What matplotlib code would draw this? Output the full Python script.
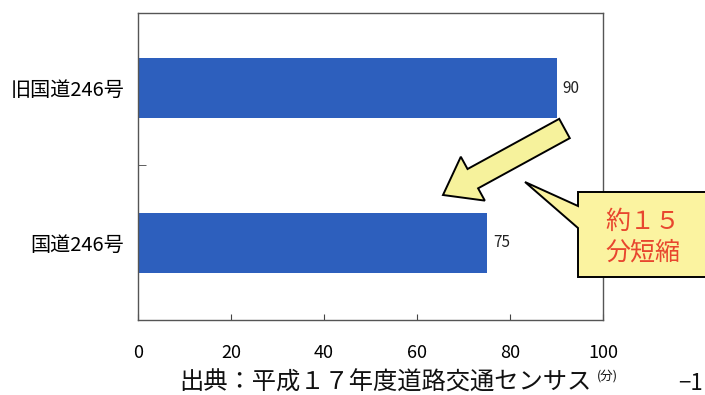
import matplotlib
matplotlib.use('Agg')
import matplotlib.pyplot as plt
from matplotlib.patches import FancyArrow, Polygon
from matplotlib.transforms import Affine2D

plt.rcParams['font.family'] = ['Noto Sans CJK JP', 'DejaVu Sans']

# values (bottom to top)
routes = ['国道246号', '旧国道246号']
minutes = [75, 90]
x_ticks = [0, 20, 40, 60, 80, 100]

bar_color = '#2d5fbd'
red_text = '#e8462e'

fig = plt.figure(figsize=(7.05, 3.95), dpi=100, facecolor='white')
ax = fig.add_axes([138 / 705, 1 - 320 / 395, 465 / 705, 307 / 395])

pos = list(range(len(routes)))
ax.barh(pos, minutes, height=0.39, color=bar_color, edgecolor='none')
for p, v in zip(pos, minutes):
    ax.text(v + 1.3, p, str(v), va='center', ha='left', fontsize=11, color='#222222')

ax.set_xlim(0, 100)
ax.set_ylim(-0.5, 1.485)
ax.set_xticks(x_ticks)
ax.set_xticklabels([str(t) for t in x_ticks], fontsize=13)
ax.set_yticks(pos)
ax.set_yticklabels(routes, fontsize=14.5)
ax.set_yticks([0.5], minor=True)
ax.tick_params(axis='x', direction='in', length=4, pad=17, color='#444444')
ax.tick_params(axis='y', which='major', length=0, pad=10)
ax.tick_params(axis='y', which='minor', direction='in', length=6, color='#444444')
for s in ax.spines.values():
    s.set_color('#555555')
    s.set_linewidth(1.0)

# pixel coordinates measured from the top-left corner of the figure
px = Affine2D().scale(1 / 705, -1 / 395).translate(0, 1) + fig.transFigure

# big yellow arrow
arrow = FancyArrow(564.5, 128.5, -121.5, 66.5, width=22, head_width=50, head_length=34,
                   length_includes_head=True, transform=px, facecolor='#f6f29c',
                   edgecolor='black', linewidth=1.4, clip_on=False)
fig.add_artist(arrow)

# callout box
callout = Polygon([(578, 192), (760, 192), (760, 277), (578, 277), (578, 228),
                   (525, 182), (578, 206)], closed=True, transform=px,
                  facecolor='#fbf3a0', edgecolor='black', linewidth=1.4, clip_on=False)
fig.add_artist(callout)
fig.text(605 / 705, 1 - 222 / 395, '約１５', color=red_text, fontsize=18,
         ha='left', va='center')
fig.text(605 / 705, 1 - 253 / 395, '分短縮', color=red_text, fontsize=18,
         ha='left', va='center')

# source, unit and page number
fig.text(385 / 705, 1 - 383 / 395, '出典：平成１７年度道路交通センサス', fontsize=17.5,
         ha='center', va='center', color='#111111')
fig.text(607 / 705, 1 - 376 / 395, '(分)', fontsize=9, ha='center', va='center',
         color='#111111')
fig.text(703 / 705, 1 - 384 / 395, '−1', fontsize=16, ha='right', va='center',
         color='#111111')

fig.savefig('out.png', dpi=100, facecolor='white')
